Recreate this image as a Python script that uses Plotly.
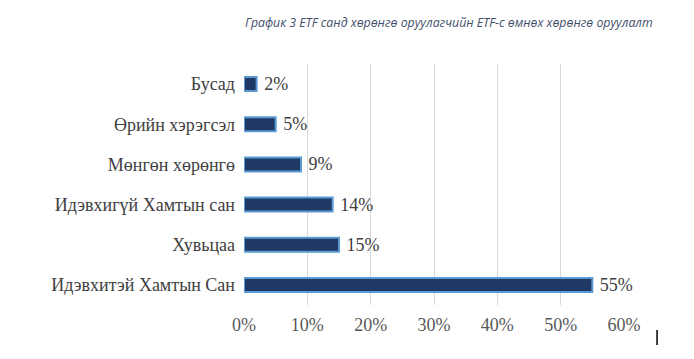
import plotly.graph_objects as go

categories = ["Идэвхитэй Хамтын Сан", "Хувьцаа", "Идэвхигүй Хамтын сан",
              "Мөнгөн хөрөнгө", "Өрийн хэрэгсэл", "Бусад"]
values = [55, 15, 14, 9, 5, 2]
labels = [f"{v}%" for v in values]
tick_vals = [0, 10, 20, 30, 40, 50, 60]
tick_text = [f"{t}%" for t in tick_vals]
title = "График 3 ETF санд хөрөнгө оруулагчийн ETF-с өмнөх хөрөнгө оруулалт"

serif = "Liberation Serif, Times New Roman, serif"
fig = go.Figure(go.Bar(
    y=categories, x=values, orientation="h",
    text=["\u2005" + s for s in labels], textposition="outside",
    cliponaxis=False, constraintext="none",
    textfont=dict(family=serif, size=18, color="#404040"),
    marker=dict(color="#203864", line=dict(color="#5B9BD5", width=2)),
    width=0.35,
))
fig.update_layout(
    width=686, height=351,
    margin=dict(l=236, r=70, t=56, b=54),
    paper_bgcolor="white", plot_bgcolor="white",
    showlegend=False,
    xaxis=dict(range=[0, 60], tickvals=tick_vals, ticktext=tick_text,
               showgrid=True, gridcolor="#D9D9D9", gridwidth=1,
               zeroline=False, showline=False, ticks="", ticklabelstandoff=7,
               tickfont=dict(family=serif, size=18, color="#595959")),
    yaxis=dict(showgrid=False, ticks="", ticklen=0, ticklabelstandoff=8,
               tickfont=dict(family=serif, size=18, color="#404040")),
    annotations=[dict(text=f"<i>{title}</i>", xref="paper", yref="paper",
                      x=1.081, y=1.174, xanchor="right", yanchor="middle",
                      showarrow=False,
                      font=dict(family="Open Sans, sans-serif", size=12.3,
                                color="#3F4F6B"))],
)
fig.add_shape(type="line", xref="paper", yref="paper",
              x0=1.087, x1=1.087, y0=-0.104, y1=-0.166,
              line=dict(color="black", width=1.5))
fig.write_html("out.html")
